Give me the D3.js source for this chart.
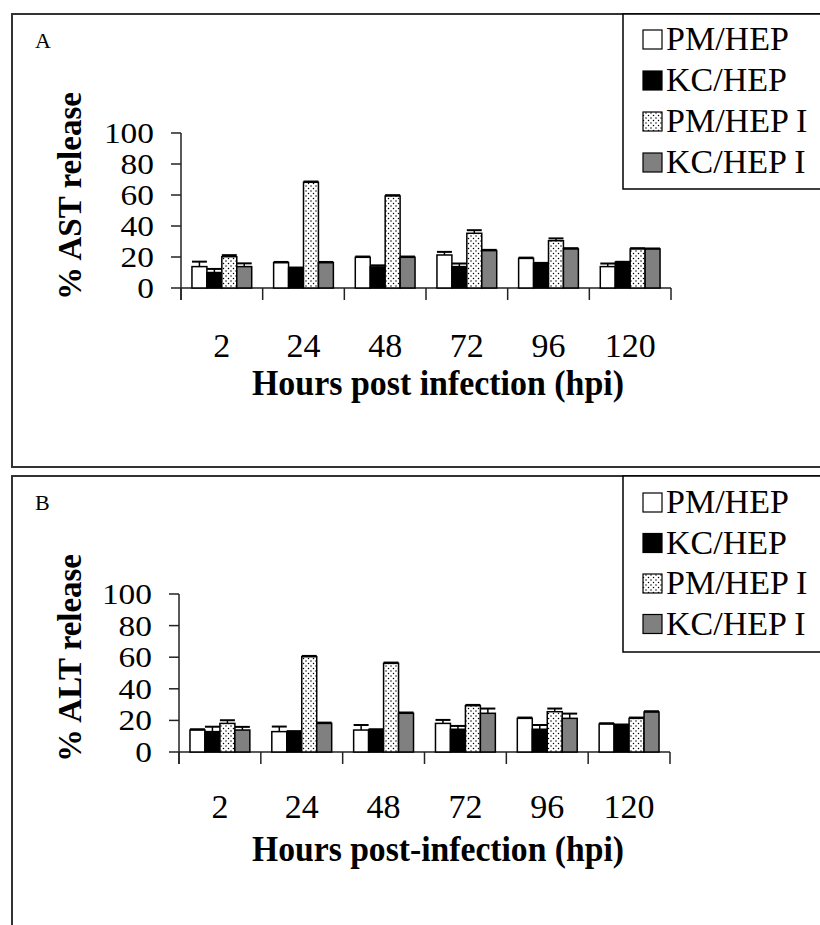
<!DOCTYPE html>
<html>
<head>
<meta charset="utf-8">
<script src="https://cdn.jsdelivr.net/npm/d3@7"></script>
<style>
  html, body { margin: 0; padding: 0; background: #fff; }
  svg { display: block; }
  text { font-family: "Liberation Serif", "Times New Roman", serif; fill: #000; }
</style>
</head>
<body>
<svg id="chart" width="820" height="925"></svg>
<script>
// ---- data ----
const hours = ["2", "24", "48", "72", "96", "120"];
const seriesNames = ["PM/HEP", "KC/HEP", "PM/HEP I", "KC/HEP I"];
const yTicks = [0, 20, 40, 60, 80, 100];

// Panel A: % AST release
const pmHepAST   = [13.8, 16.3, 19.8, 21.3, 19.1, 13.8];
const kcHepAST   = [10.0, 12.9, 13.6, 13.8, 15.9, 16.6];
const pmHepIAST  = [20.2, 68.2, 59.4, 35.3, 30.5, 25.2];
const kcHepIAST  = [13.8, 16.3, 19.8, 24.1, 25.2, 25.2];
const pmHepASTErr  = [3.2, 0.5, 0.5, 2.0, 0.5, 2.0];
const kcHepASTErr  = [2.3, 0.3, 1.0, 2.0, 0.3, 0.3];
const pmHepIASTErr = [1.0, 0.5, 0.5, 2.0, 1.5, 0.5];
const kcHepIASTErr = [2.1, 0.5, 0.5, 0.5, 0.5, 0.3];

// Panel B: % ALT release
const pmHepALT   = [13.9, 12.9, 13.9, 18.1, 21.3, 17.7];
const kcHepALT   = [12.9, 12.9, 14.1, 14.4, 14.4, 17.1];
const pmHepIALT  = [18.1, 60.3, 56.1, 29.3, 25.5, 21.3];
const kcHepIALT  = [13.9, 18.1, 24.5, 24.5, 21.3, 25.3];
const pmHepALTErr  = [0.5, 3.2, 3.2, 2.2, 0.5, 0.5];
const kcHepALTErr  = [3.1, 0.3, 0.3, 2.1, 2.7, 0.3];
const pmHepIALTErr = [2.0, 0.5, 0.5, 0.5, 2.0, 0.5];
const kcHepIALTErr = [2.0, 0.5, 0.5, 3.0, 3.0, 0.5];

const svg = d3.select("#chart");

// dotted pattern
const defs = svg.append("defs");
const pat = defs.append("pattern").attr("id", "dots")
  .attr("patternUnits", "userSpaceOnUse").attr("width", 5).attr("height", 5);
pat.append("rect").attr("width", 5).attr("height", 5).attr("fill", "#fff");
pat.append("circle").attr("cx", 1).attr("cy", 1).attr("r", 0.75).attr("fill", "#000");
pat.append("circle").attr("cx", 3.5).attr("cy", 3.5).attr("r", 0.75).attr("fill", "#000");

const fills = ["#ffffff", "#000000", "url(#dots)", "#808080"];

function panel(cfg) {
  const g = svg.append("g");
  // panel frame
  g.append("rect").attr("x", 12).attr("y", cfg.boxTop).attr("width", 830)
    .attr("height", cfg.boxH).attr("fill", "none").attr("stroke", "#333").attr("stroke-width", 2);
  g.append("text").attr("x", 35).attr("y", cfg.boxTop + 34)
    .attr("font-size", 22).text(cfg.letter);

  const x = d3.scaleBand().domain(hours).range([cfg.x0, cfg.x1]).padding(0);
  const bw = x.bandwidth();
  const xs = d3.scaleBand().domain(seriesNames)
    .range([bw * 11 / 82, bw * 71 / 82]).padding(0);
  const y = d3.scaleLinear().domain([0, 100]).range([cfg.yBottom, cfg.yTop]);

  // y axis
  g.append("line").attr("x1", cfg.x0).attr("x2", cfg.x0)
    .attr("y1", y(100)).attr("y2", y(0) + 12).attr("stroke", "#222").attr("stroke-width", 1.5);
  g.selectAll(".yt").data(yTicks).enter().append("line")
    .attr("x1", cfg.x0 - 10).attr("x2", cfg.x0)
    .attr("y1", d => y(d)).attr("y2", d => y(d))
    .attr("stroke", "#222").attr("stroke-width", 1.5);
  g.selectAll(".yl").data(yTicks).enter().append("text")
    .attr("x", cfg.x0 - 27).attr("y", d => y(d) + 10)
    .attr("text-anchor", "end").attr("font-size", 30)
    .attr("textLength", d => String(d).length * 16.7).attr("lengthAdjust", "spacingAndGlyphs")
    .text(d => d);

  // x axis
  g.append("line").attr("x1", cfg.x0).attr("x2", cfg.x1)
    .attr("y1", y(0)).attr("y2", y(0)).attr("stroke", "#222").attr("stroke-width", 1.5);
  const tickPos = hours.map(h => x(h)).concat([cfg.x1]);
  g.selectAll(".xt").data(tickPos).enter().append("line")
    .attr("x1", d => d).attr("x2", d => d)
    .attr("y1", y(0)).attr("y2", y(0) + 12)
    .attr("stroke", "#222").attr("stroke-width", 1.5);
  g.selectAll(".xl").data(hours).enter().append("text")
    .attr("x", d => x(d) + bw / 2).attr("y", cfg.xLabelY)
    .attr("text-anchor", "middle").attr("font-size", 34).text(d => d);

  // bars
  const data = [];
  cfg.values.forEach((vals, si) => {
    vals.forEach((v, hi) => data.push({ s: seriesNames[si], si, h: hours[hi], v, e: cfg.errors[si][hi] }));
  });
  const barG = g.append("g");
  barG.selectAll("rect").data(data).enter().append("rect")
    .attr("x", d => x(d.h) + xs(d.s))
    .attr("y", d => y(d.v))
    .attr("width", xs.bandwidth())
    .attr("height", d => y(0) - y(d.v))
    .attr("fill", d => fills[d.si])
    .attr("stroke", "#000").attr("stroke-width", 1.5);
  // error bars
  const eg = g.append("g");
  eg.selectAll(".stem").data(data).enter().append("line")
    .attr("x1", d => x(d.h) + xs(d.s) + xs.bandwidth() / 2)
    .attr("x2", d => x(d.h) + xs(d.s) + xs.bandwidth() / 2)
    .attr("y1", d => y(d.v)).attr("y2", d => y(d.v + d.e))
    .attr("stroke", "#000").attr("stroke-width", 1.5);
  eg.selectAll(".cap").data(data).enter().append("line")
    .attr("x1", d => x(d.h) + xs(d.s))
    .attr("x2", d => x(d.h) + xs(d.s) + xs.bandwidth())
    .attr("y1", d => y(d.v + d.e)).attr("y2", d => y(d.v + d.e))
    .attr("stroke", "#000").attr("stroke-width", 2);

  // axis titles
  g.append("text").attr("x", 252).attr("y", cfg.xTitleY)
    .attr("font-size", 36).attr("font-weight", "bold")
    .attr("textLength", 372).attr("lengthAdjust", "spacingAndGlyphs")
    .text(cfg.xTitle);
  g.append("text")
    .attr("transform", `translate(81,${cfg.yTitleCy}) rotate(-90)`)
    .attr("text-anchor", "middle").attr("font-size", 34).attr("font-weight", "bold")
    .attr("textLength", 208).attr("lengthAdjust", "spacingAndGlyphs")
    .text(cfg.yTitle);

  // legend
  const lg = g.append("g");
  lg.append("rect").attr("x", 623).attr("y", cfg.legTop).attr("width", 220)
    .attr("height", cfg.legH).attr("fill", "#fff").attr("stroke", "#000").attr("stroke-width", 1.5);
  const items = lg.selectAll(".li").data(seriesNames).enter().append("g")
    .attr("transform", (d, i) => `translate(0,${cfg.legBase0 + i * cfg.legStep})`);
  items.append("rect").attr("x", 643).attr("y", -20).attr("width", 19).attr("height", 19)
    .attr("fill", (d, i) => fills[i]).attr("stroke", "#000").attr("stroke-width", 1.2);
  items.append("text").attr("x", 666).attr("y", 0).attr("font-size", 34).text(d => d);
}

panel({
  letter: "A", boxTop: 14, boxH: 453,
  x0: 181, x1: 671, yTop: 133, yBottom: 288,
  xLabelY: 357, xTitleY: 395, yTitleCy: 196,
  xTitle: "Hours post infection (hpi)", yTitle: "% AST release",
  values: [pmHepAST, kcHepAST, pmHepIAST, kcHepIAST],
  errors: [pmHepASTErr, kcHepASTErr, pmHepIASTErr, kcHepIASTErr],
  legTop: 14, legH: 175, legBase0: 50, legStep: 41
});

panel({
  letter: "B", boxTop: 476, boxH: 480,
  x0: 179, x1: 670, yTop: 594, yBottom: 752,
  xLabelY: 818, xTitleY: 861, yTitleCy: 658,
  xTitle: "Hours post-infection (hpi)", yTitle: "% ALT release",
  values: [pmHepALT, kcHepALT, pmHepIALT, kcHepIALT],
  errors: [pmHepALTErr, kcHepALTErr, pmHepIALTErr, kcHepIALTErr],
  legTop: 476, legH: 176, legBase0: 513, legStep: 40.5
});
</script>
</body>
</html>
